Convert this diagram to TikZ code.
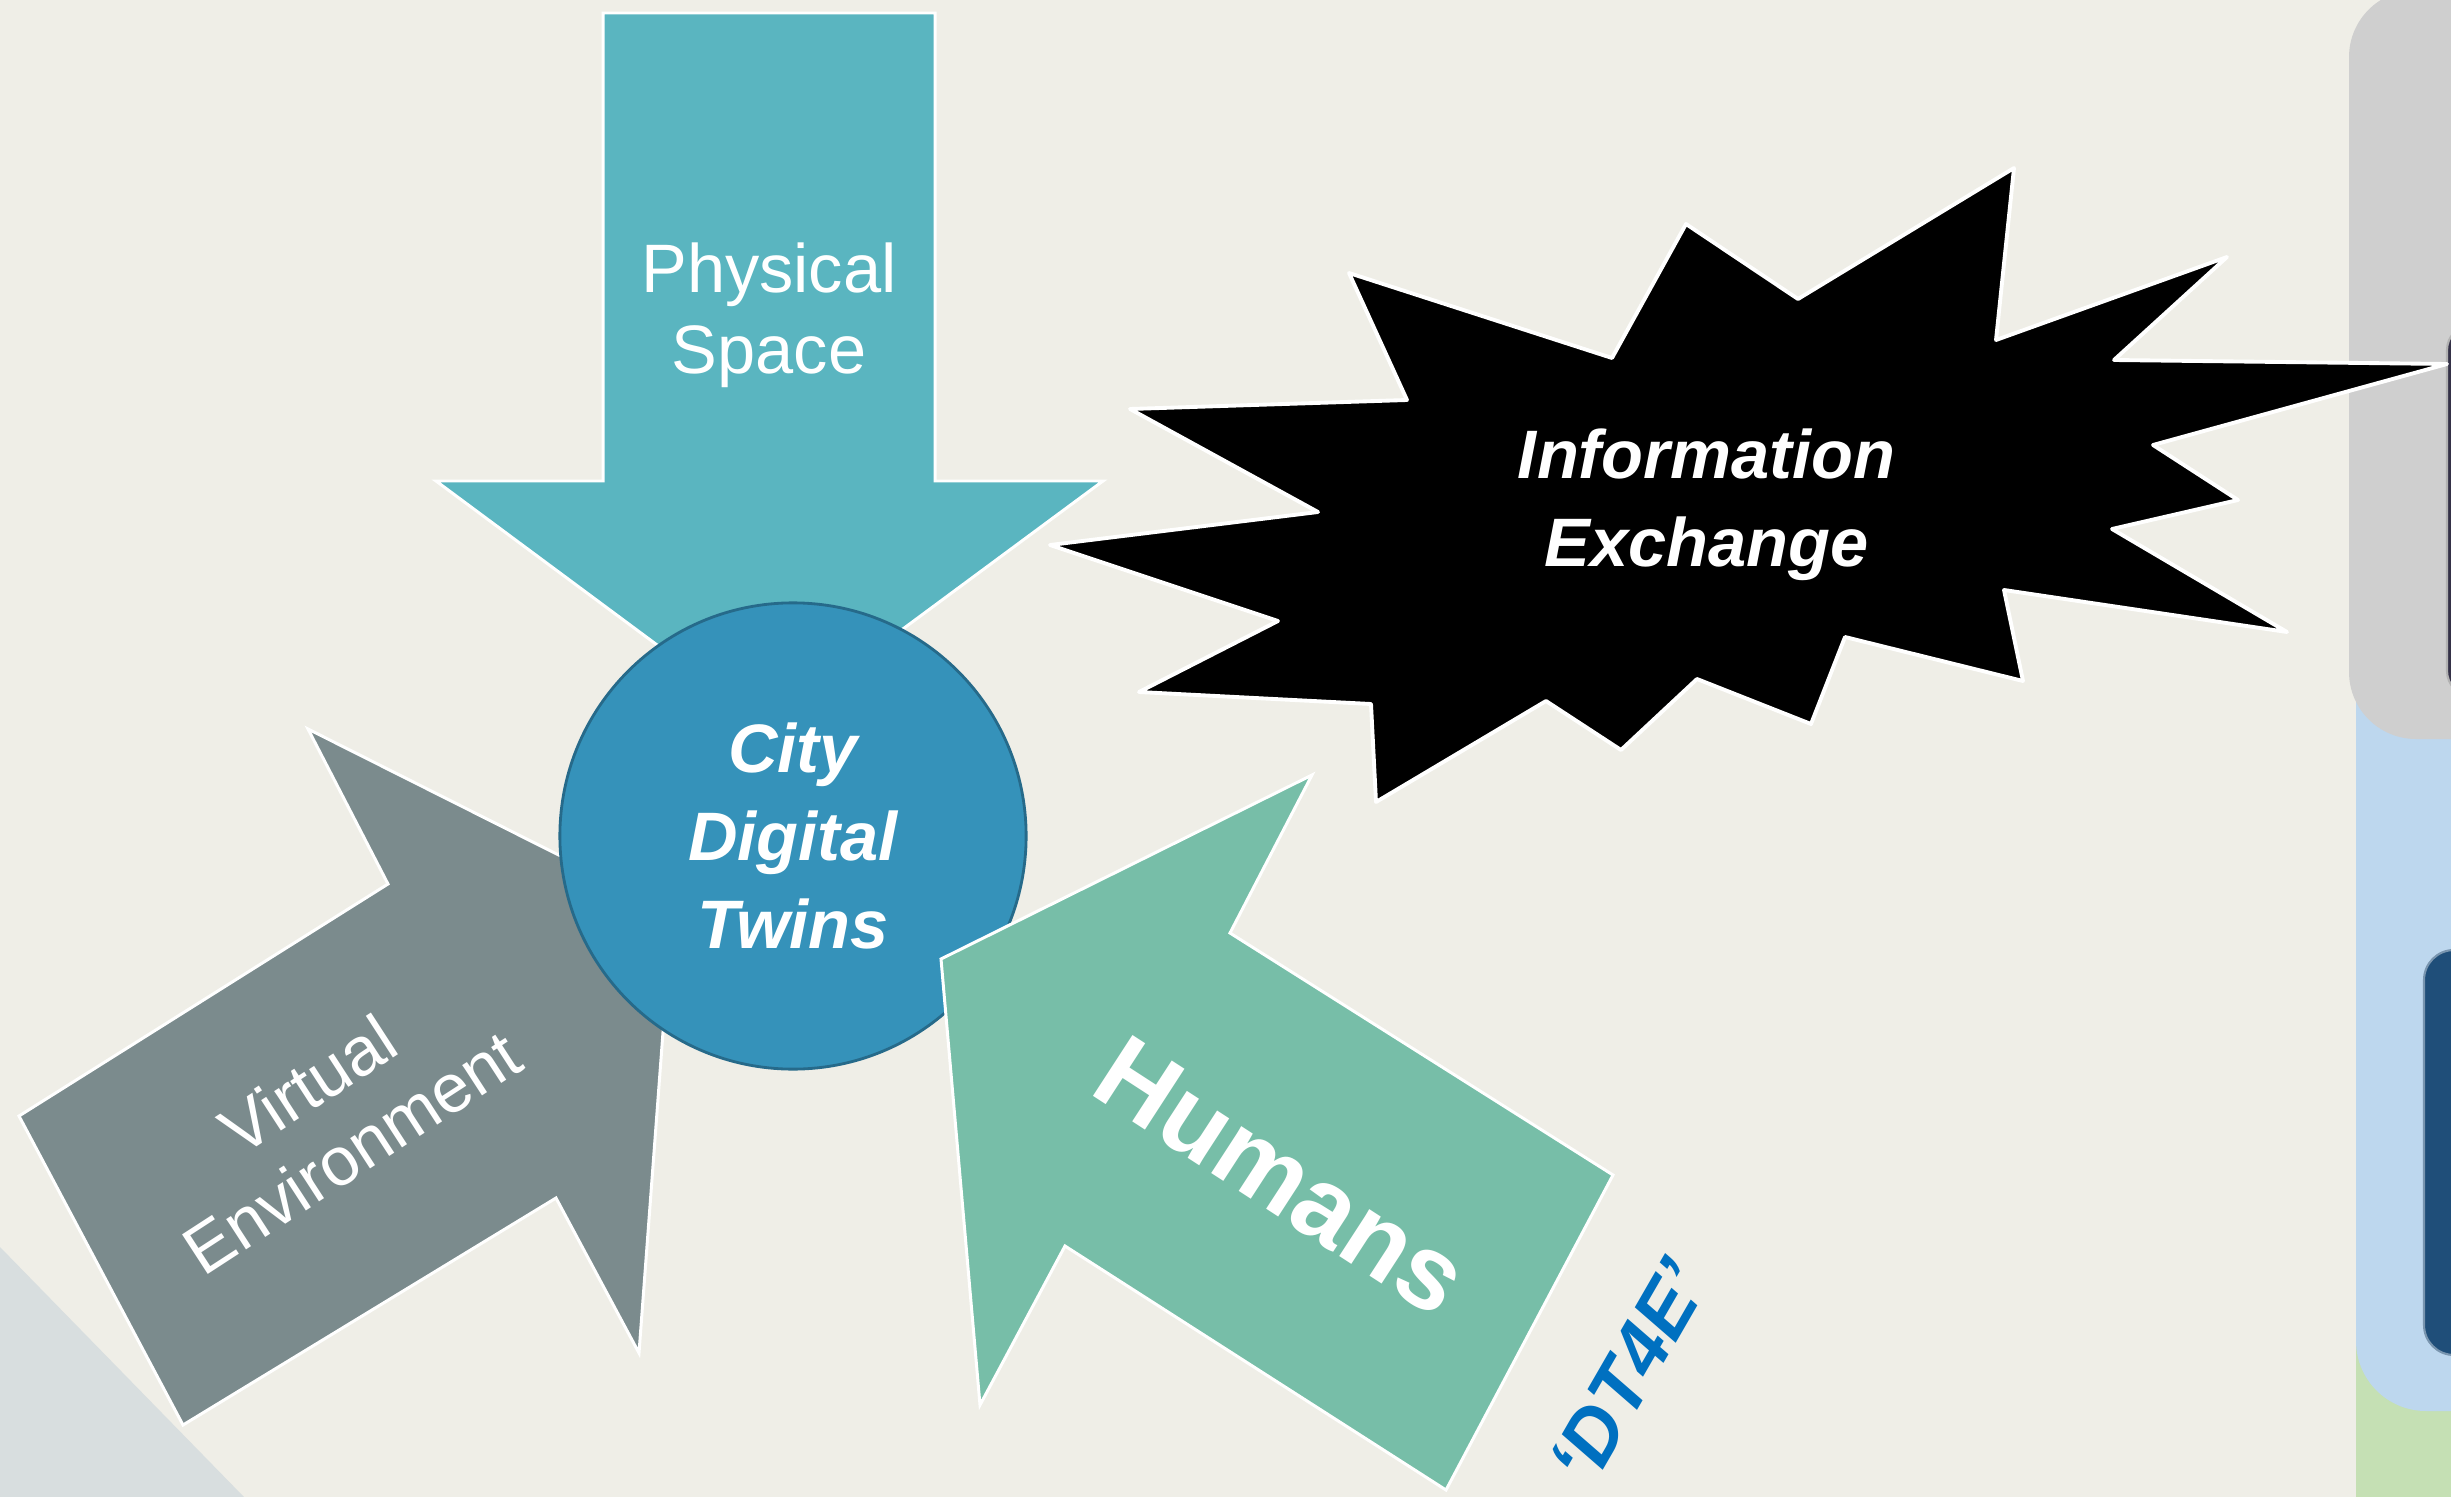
\documentclass[tikz,border=0pt]{standalone}
\usepackage{fontspec}
\setmainfont{Liberation Sans}
\usetikzlibrary{positioning}
\definecolor{bgbeige}{RGB}{239,238,231}
\definecolor{psteal}{RGB}{90,181,192}
\definecolor{cdtblue}{RGB}{53,146,186}
\definecolor{cdtedge}{RGB}{38,106,138}
\definecolor{vegray}{RGB}{123,139,141}
\definecolor{hugreen}{RGB}{119,190,168}
\definecolor{dtblue}{RGB}{0,112,192}
\definecolor{panelgray}{RGB}{207,207,207}
\definecolor{panelblue}{RGB}{189,215,238}
\definecolor{panelgreen}{RGB}{197,224,180}
\definecolor{paneldark}{RGB}{53,50,72}
\definecolor{panelnavy}{RGB}{31,78,121}
\definecolor{cornergray}{RGB}{216,222,223}

\begin{document}
\begin{tikzpicture}[x=0.01cm, y=-0.01cm,
        blockarrow/.style={draw=white, line width=0.85pt, line join=miter},
        plainlabel/.style={text=white, align=center, font=\fontsize{19.5}{23}\selectfont},
        boldlabel/.style={text=white, align=center, font=\bfseries\itshape\fontsize{19.5}{25}\selectfont}]
        \useasboundingbox (0,0) rectangle (2451,1497);
        \clip (0,0) rectangle (2451,1497);
        \fill [bgbeige] (0,0) rectangle (2451,1497);
        \fill [cornergray] (0,1247) -- (244,1497) -- (0,1497) -- cycle;

        \fill [panelgreen] (2356,1250) rectangle (2520,1560);
        \fill [panelblue, rounded corners=0.7cm] (2356,600) rectangle (2520,1411);
        \fill [panelgray, rounded corners=0.67cm] (2349,-10) rectangle (2520,739);
        \draw [fill=paneldark, draw=gray!60, line width=0.6pt, rounded corners=0.25cm] (2447,325) rectangle (2520,696);
        \draw [fill=panelnavy, draw=panelnavy!60, line width=0.6pt, rounded corners=0.3cm] (2424,950) rectangle (2520,1355);

        \draw [blockarrow, fill=psteal] (603,13) -- (935,13) -- (935,481) -- (1103,481) -- (769,728)
                -- (436,481) -- (603,481) -- cycle;
        \draw [blockarrow, fill=vegray] (19,1116) -- (388,884) -- (308,729) -- (672,912) -- (639,1353)
                -- (556,1198) -- (183,1425) -- cycle;

        \node [circle, fill=cdtblue, draw=cdtedge, line width=0.8pt, minimum size=4.66cm, inner sep=0pt, boldlabel] (CDT) at (793,836) {City\\Digital\\Twins};

        \draw [blockarrow, fill=hugreen] (941,959) -- (1312,775) -- (1230,933) -- (1613,1175) -- (1446,1490)
                -- (1065,1246) -- (980,1405) -- cycle;

        \draw [fill=black, draw=white, line width=1.1pt, line join=round] (1050,545) -- (1318,512) -- (1130,409)
                -- (1407,400) -- (1349,273) -- (1612,358) -- (1686,224) -- (1798,299) -- (2014,168)
                -- (1996,340) -- (2227,257) -- (2114,360) -- (2447,364) -- (2153,445) -- (2238,500)
                -- (2112,529) -- (2287,632) -- (2004,590) -- (2023,681) -- (1845,637) -- (1811,724)
                -- (1697,679) -- (1621,750) -- (1546,701) -- (1376,802) -- (1371,704) -- (1139,692)
                -- (1278,621) -- cycle;

        \node [on grid, above left=5.2cm and 0.24cm of CDT, plainlabel] (PS) {Physical\\Space};
        \node [on grid, below left=2.82cm and 4.63cm of CDT, plainlabel, rotate=33] (VE) {Virtual\\Environment};
        \node [on grid, below right=3.4cm and 4.88cm of CDT, text=white, font=\bfseries\fontsize{30}{36}\selectfont, rotate=-33] (HU) {Humans};
        \node [on grid, above right=3.31cm and 9.13cm of CDT, boldlabel] (IE) {Information\\Exchange};
        \node [on grid, below right=1.96cm and 3.47cm of HU, text=dtblue, font=\bfseries\itshape\fontsize{22}{26}\selectfont, rotate=60] (DT) {`DT4E'};
      \end{tikzpicture}
\end{document}
